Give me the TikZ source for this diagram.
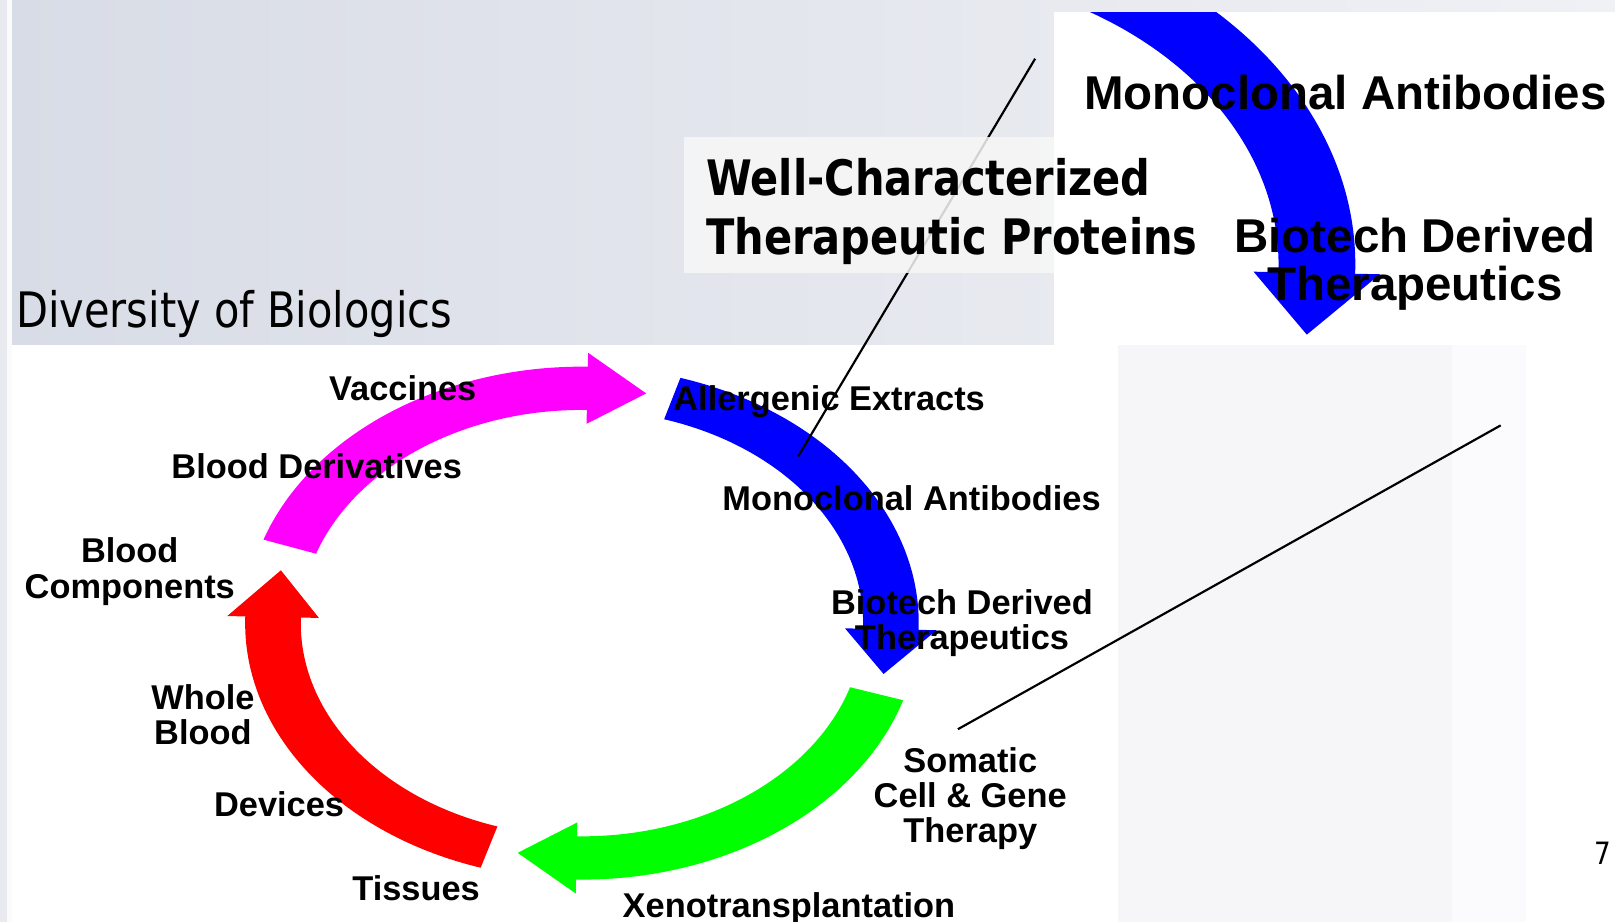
\documentclass[tikz,border=0pt]{standalone}
\usepackage{fontspec}
\setmainfont{Liberation Sans}
\newfontfamily\slidefont[FakeStretch=0.85]{DejaVu Sans}
\usepackage{tikz}
\usetikzlibrary{positioning}
\definecolor{slidebgl}{RGB}{216,220,230}
\definecolor{slidebgr}{RGB}{240,241,245}
\definecolor{panelgray}{RGB}{246,246,249}
\definecolor{arpink}{RGB}{255,0,255}
\definecolor{arblue}{RGB}{0,0,255}
\definecolor{argreen}{RGB}{0,255,0}
\definecolor{arred}{RGB}{255,0,0}
\tikzset{
  lbl/.style={font=\fontsize{9.5}{9.7}\selectfont\bfseries, align=center, inner sep=0pt},
  headtext/.style={font=\slidefont\fontsize{13.5}{14}\selectfont, anchor=base west, inner sep=0pt},
  callout/.style={line width=0.6pt, black}
}
% colour, tail angle, head base angle, tip angle
\newcommand{\ringarrow}[4]{%
  \fill[#1] ({5.65+3.27*cos(#2)},{2.90+2.49*sin(#2)})
    arc[start angle=#2, end angle=#3, x radius=3.27, y radius=2.49]
    -- ({5.65+3.445*cos(#3)},{2.90+2.625*sin(#3)})
    -- ({5.65+3*cos(#4)},{2.90+2.28*sin(#4)})
    -- ({5.65+2.555*cos(#3)},{2.90+1.935*sin(#3)})
    -- ({5.65+2.73*cos(#3)},{2.90+2.07*sin(#3)})
    arc[start angle=#3, end angle=#2, x radius=2.73, y radius=2.07]
    -- cycle;}

\begin{document}
\begin{tikzpicture}
\useasboundingbox (0,0) rectangle (15.68,8.95);
\shade[left color=slidebgl, right color=slidebgr] (0,0) rectangle (15.68,8.95);
\fill[slidebgl!60!white] (0,0) rectangle (0.07,8.95);
\fill[white!90!slidebgl] (0.07,0) rectangle (0.116,8.95);

\fill[white] (0.116,0) rectangle (10.85,5.60);
\fill[white] (10.23,5.60) rectangle (15.68,8.83);
\fill[panelgray] (10.85,0) rectangle (14.1,5.60);
\fill[white!60!panelgray] (14.1,0) rectangle (14.82,5.60);
\fill[white] (14.82,0) rectangle (15.68,5.60);

\ringarrow{arpink}{161}{89}{78}
\ringarrow{arblue}{73}{-1.5}{-12.5}
\ringarrow{argreen}{-17.5}{-91}{-102}
\ringarrow{arred}{-107.5}{-181.5}{-193}

\begin{scope}
  \clip (10.23,5.60) rectangle (15.68,8.83);
  \begin{scope}[shift={(0.849,2.38)}, scale=1.38, transform shape]
    \ringarrow{arblue}{73}{-1.5}{-12.5}
    \node[lbl] (zmono) at (8.85,4.11) {Monoclonal Antibodies};
    \node[lbl] (zbiotech) at (9.34,2.90) {Biotech Derived\\Therapeutics};
  \end{scope}
\end{scope}

\coordinate (zoomtop) at (10.05,8.38);
\coordinate (ringtop) at (7.75,4.52);
\draw[callout] (zoomtop) -- (ringtop);
\node[fill=white!97!black, fill opacity=0.85, minimum width=3.59cm, minimum height=1.32cm, inner sep=0pt] (titlebox) at (8.435,6.96) {};
\node[headtext, font=\slidefont\fontsize{13.5}{14}\selectfont\bfseries] (title1) at (6.85,7.05) {Well-Characterized};
\node[headtext, font=\slidefont\fontsize{13.5}{14}\selectfont\bfseries] (title2) at (6.85,6.48) {Therapeutic Proteins};
\node[headtext] (slidetitle) at (0.15,5.77) {Diversity of Biologics};

\coordinate (ringright) at (9.30,1.87);
\coordinate (zoomright) at (14.57,4.82);
\draw[callout] (ringright) -- (zoomright);

\node[lbl] (vacc) at (3.91,5.18) {Vaccines};
\node[lbl] (bloodder) at (3.075,4.42) {Blood Derivatives};
\node[lbl] (bloodcomp) at (1.26,3.40) {Blood\\Components};
\node[lbl] (allerg) at (8.05,5.05) {Allergenic Extracts};
\node[lbl] (mono) at (8.85,4.11) {Monoclonal Antibodies};
\node[lbl] (biotech) at (9.34,2.90) {Biotech Derived\\Therapeutics};
\node[lbl] (somatic) at (9.42,1.20) {Somatic\\Cell \& Gene\\Therapy};
\node[lbl] (xeno) at (7.66,0.13) {Xenotransplantation};
\node[lbl] (tissues) at (4.04,0.33) {Tissues};
\node[lbl] (devices) at (2.71,1.14) {Devices};
\node[lbl] (wholeblood) at (1.97,2.01) {Whole\\Blood};
\node[font=\slidefont\fontsize{8.5}{9}\selectfont, inner sep=0pt] (pagenum) at (15.56,0.67) {7};
\end{tikzpicture}
\end{document}
